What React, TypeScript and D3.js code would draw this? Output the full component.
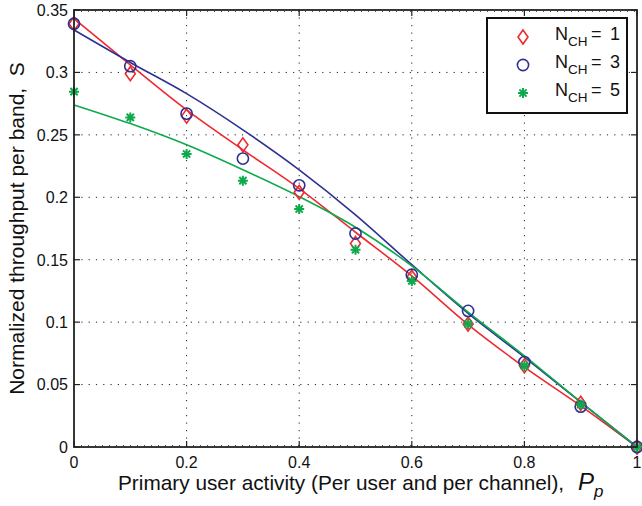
import React from "react";
import * as d3 from "d3";

const pActivity = [0, 0.1, 0.2, 0.3, 0.4, 0.5, 0.6, 0.7, 0.8, 0.9, 1.0];
const simCH1 = [0.339, 0.299, 0.265, 0.242, 0.204, 0.163, 0.136, 0.0985, 0.065, 0.035, 0];
const simCH3 = [0.339, 0.305, 0.267, 0.231, 0.2096, 0.171, 0.138, 0.109, 0.068, 0.0323, 0];
const simCH5 = [0.2846, 0.264, 0.2347, 0.2133, 0.1906, 0.158, 0.133, 0.0985, 0.065, 0.034, 0];
const theoryCH1 = [0.343, 0.306, 0.270, 0.238, 0.207, 0.172, 0.137, 0.098, 0.064, 0.033, 0];
const theoryCH3 = [0.334, 0.308, 0.283, 0.254, 0.222, 0.186, 0.146, 0.107, 0.072, 0.036, 0];
const theoryCH5 = [0.274, 0.259, 0.242, 0.222, 0.2005, 0.176, 0.145, 0.108, 0.073, 0.036, 0];
const xTicks = [0, 0.2, 0.4, 0.6, 0.8, 1];
const yTicks = [0, 0.05, 0.1, 0.15, 0.2, 0.25, 0.3, 0.35];
const legendLabels = ["1", "3", "5"];

const RED = "#ee2a2e";
const BLUE = "#2e3192";
const GREEN = "#0daa4b";
const FONT = "'Liberation Sans', Arial, Helvetica, sans-serif";

const L = 74, R = 637, T = 10, B = 447;

export default function App() {
  const x = d3.scaleLinear().domain([0, 1]).range([L, R]);
  const y = d3.scaleLinear().domain([0, 0.35]).range([B, T]);
  const line = d3
    .line<number>()
    .x((_, i) => x(pActivity[i]))
    .y((d) => y(d))
    .curve(d3.curveMonotoneX);

  const diamond = (cx: number, cy: number, k: string) => (
    <path
      key={k}
      d={`M${cx},${cy - 7}L${cx + 5},${cy}L${cx},${cy + 7}L${cx - 5},${cy}Z`}
      fill="none"
      stroke={RED}
      strokeWidth={1.6}
    />
  );
  const circle = (cx: number, cy: number, k: string) => (
    <circle key={k} cx={cx} cy={cy} r={5.6} fill="none" stroke={BLUE} strokeWidth={1.6} />
  );
  const star = (cx: number, cy: number, k: string) => {
    const s = 5;
    const d2 = 3.6;
    return (
      <path
        key={k}
        d={`M${cx - s},${cy}L${cx + s},${cy}M${cx},${cy - s}L${cx},${cy + s}M${cx - d2},${cy - d2}L${cx + d2},${cy + d2}M${cx - d2},${cy + d2}L${cx + d2},${cy - d2}`}
        stroke={GREEN}
        strokeWidth={2}
        fill="none"
      />
    );
  };

  const legendRows = [
    { draw: diamond, label: legendLabels[0] },
    { draw: circle, label: legendLabels[1] },
    { draw: star, label: legendLabels[2] },
  ];

  return (
    <svg width={642} height={506} style={{ position: "absolute", left: 0, top: 0 }} fontFamily={FONT}>
      <rect x={0} y={0} width={642} height={506} fill="#fff" />
      {/* grid */}
      {xTicks.slice(1, -1).map((t) => (
        <line key={"gx" + t} x1={x(t)} x2={x(t)} y1={T} y2={B} stroke="#222" strokeWidth={1} strokeDasharray="1.2,6.3" />
      ))}
      {yTicks.slice(1, -1).map((t) => (
        <line key={"gy" + t} x1={L} x2={R} y1={y(t)} y2={y(t)} stroke="#222" strokeWidth={1} strokeDasharray="1.2,6.1" />
      ))}
      {/* dotted bumps along top/bottom axis */}
      <line x1={L} x2={R} y1={B - 1.5} y2={B - 1.5} stroke="#555" strokeWidth={1} strokeDasharray="1,6" />
      <line x1={L} x2={R} y1={T + 1.5} y2={T + 1.5} stroke="#555" strokeWidth={1} strokeDasharray="1,6" />
      {/* tick marks */}
      {xTicks.map((t) => (
        <g key={"xt" + t}>
          <line x1={x(t)} x2={x(t)} y1={B} y2={B - 6} stroke="#222" strokeWidth={1.2} />
          <line x1={x(t)} x2={x(t)} y1={T} y2={T + 6} stroke="#222" strokeWidth={1.2} />
        </g>
      ))}
      {yTicks.map((t) => (
        <g key={"yt" + t}>
          <line x1={L} x2={L + 6} y1={y(t)} y2={y(t)} stroke="#222" strokeWidth={1.2} />
          <line x1={R} x2={R - 6} y1={y(t)} y2={y(t)} stroke="#222" strokeWidth={1.2} />
        </g>
      ))}
      {/* theory lines */}
      <path d={line(theoryCH1) || ""} fill="none" stroke={RED} strokeWidth={1.6} />
      <path d={line(theoryCH3) || ""} fill="none" stroke={BLUE} strokeWidth={1.6} />
      <path d={line(theoryCH5) || ""} fill="none" stroke={GREEN} strokeWidth={1.6} />
      {/* simulation markers */}
      {simCH1.map((v, i) => diamond(x(pActivity[i]), y(v), "d" + i))}
      {simCH3.map((v, i) => circle(x(pActivity[i]), y(v), "c" + i))}
      {simCH5.map((v, i) => star(x(pActivity[i]), y(v), "s" + i))}
      {/* frame */}
      <rect x={L} y={T} width={R - L} height={B - T} fill="none" stroke="#222" strokeWidth={1.8} />
      {/* tick labels */}
      {xTicks.map((t) => (
        <text key={"xl" + t} x={x(t)} y={468} textAnchor="middle" fontSize={16} fill="#111">
          {d3.format("")(t)}
        </text>
      ))}
      {yTicks.map((t) => (
        <text key={"yl" + t} x={L - 6} y={y(t) + 5.8} textAnchor="end" fontSize={16} fill="#111">
          {d3.format("")(t)}
        </text>
      ))}
      {/* axis labels */}
      <text x={118} y={490} fontSize={20.8} fill="#111">
        {"Primary user activity (Per user and per channel),"}
      </text>
      <text x={578} y={490} fill="#111" fontStyle="italic">
        <tspan fontSize={24}>P</tspan>
        <tspan fontSize={17} dy={7}>p</tspan>
      </text>
      <text
        transform={`translate(24,${(T + B) / 2}) rotate(-90)`}
        textAnchor="middle"
        fontSize={21}
        fill="#111"
      >
        {"Normalized throughput per band,\u00a0\u00a0S"}
      </text>
      {/* legend */}
      <rect x={487} y={18} width={140} height={95} fill="#fff" stroke="#111" strokeWidth={2} />
      {legendRows.map((r, i) => {
        const cy = 37 + i * 28;
        return (
          <g key={"lg" + i}>
            {r.draw(523, cy, "lm" + i)}
            <text y={cy + 3} fontSize={18} fill="#111">
              <tspan x={555}>N</tspan>
              <tspan x={568} fontSize={13.5} dy={6}>CH</tspan>
              <tspan x={591} dy={-6}>=</tspan>
              <tspan x={610}>{r.label}</tspan>
            </text>
          </g>
        );
      })}
    </svg>
  );
}
